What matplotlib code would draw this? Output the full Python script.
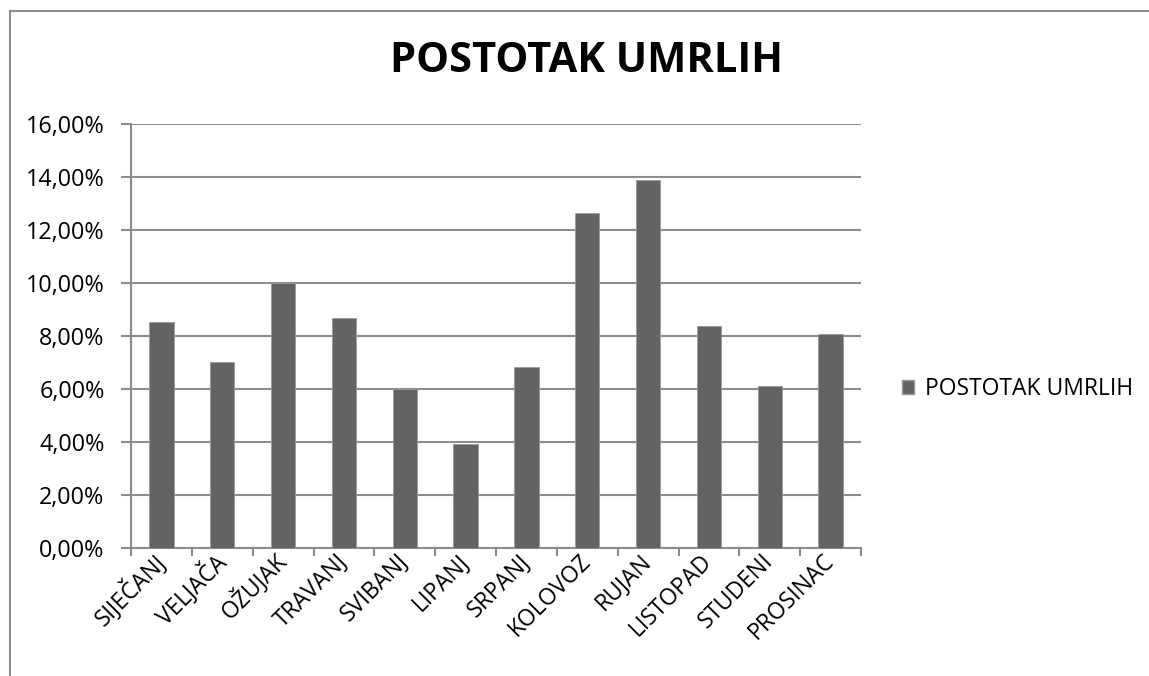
import matplotlib.pyplot as plt
from matplotlib.lines import Line2D
from matplotlib.patches import Patch
from matplotlib.ticker import FuncFormatter, FixedLocator
import numpy as np

# Podaci
mjeseci = ["SIJEČANJ", "VELJAČA", "OŽUJAK", "TRAVANJ", "SVIBANJ", "LIPANJ",
           "SRPANJ", "KOLOVOZ", "RUJAN", "LISTOPAD", "STUDENI", "PROSINAC"]
postotak_umrlih = [8.53, 7.03, 10.00, 8.68, 6.00, 3.91,
                   6.82, 12.63, 13.87, 8.38, 6.12, 8.08]
naslov = "POSTOTAK UMRLIH"

plt.rcParams['font.family'] = ['Open Sans', 'DejaVu Sans']

W, H = 1149, 676
fig = plt.figure(figsize=(W / 100, H / 100), dpi=100)

# okvir grafikona (samo gornji i lijevi rub su vidljivi)
okvir = dict(transform=fig.transFigure, color="#8c8c8c", linewidth=1.5)
fig.add_artist(Line2D([10 / W, 1.0], [1 - 11 / H, 1 - 11 / H], **okvir))
fig.add_artist(Line2D([10 / W, 10 / W], [0.0, 1 - 11 / H], **okvir))

ax = fig.add_axes([131 / W, 1 - 548 / H, (861 - 131) / W, (548 - 124) / H])
x = np.arange(len(mjeseci))
ax.bar(x, postotak_umrlih, width=0.4, color="#636363",
       edgecolor="#9a9a9a", linewidth=0.6, zorder=3, label=naslov)

ax.set_xlim(-0.5, len(mjeseci) - 0.5)
ax.set_ylim(0, 16)
ax.set_yticks(np.arange(0, 17, 2))
ax.yaxis.set_major_formatter(FuncFormatter(lambda v, p: f"{v:.2f}%".replace(".", ",")))
ax.grid(axis="y", color="#8c8c8c", linewidth=1.5, zorder=0)

ax.set_xticks(x)
ax.set_xticklabels(mjeseci, rotation=45, ha="right", va="center",
                   rotation_mode="anchor", fontsize=16.5)
ax.xaxis.set_minor_locator(FixedLocator(np.arange(-0.5, len(mjeseci), 1)))
ax.tick_params(axis="x", which="major", length=0, pad=7)
ax.tick_params(axis="x", which="minor", length=6, width=1.5, color="#8c8c8c")
ax.tick_params(axis="y", length=7, width=1.5, color="#8c8c8c", labelsize=16.8, pad=12)

for s in ["top", "right"]:
    ax.spines[s].set_visible(False)
for s in ["left", "bottom"]:
    ax.spines[s].set_color("#8c8c8c")
    ax.spines[s].set_linewidth(1.5)

fig.text(587 / W, 1 - 62 / H, naslov, ha="center", va="center",
         fontsize=30, fontweight="bold")

fig.legend(handles=[Patch(facecolor="#636363", edgecolor="#9a9a9a", label=naslov)],
           loc="center left", bbox_to_anchor=(881 / W, 1 - 389 / H),
           frameon=False, fontsize=16.5, handlelength=0.55, handleheight=0.55,
           handletextpad=0.45)

fig.savefig("out.png", dpi=100)
